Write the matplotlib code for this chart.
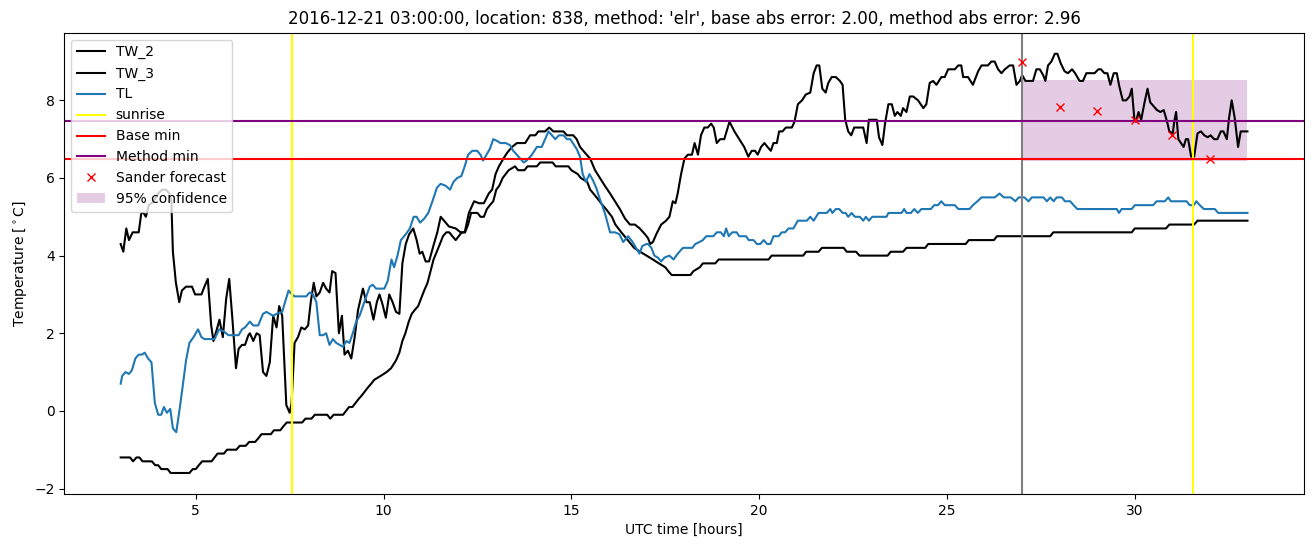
import matplotlib
matplotlib.use('Agg')
import matplotlib.pyplot as plt

# TW_2 (jagged black)
tw2_h = [3.0, 3.07, 3.15, 3.22, 3.32, 3.48, 3.55, 3.61, 3.67, 3.75, 3.88, 4.0, 4.1, 4.2, 4.3, 4.35,
         4.39, 4.47, 4.56, 4.63, 4.74, 4.9, 4.98, 5.15, 5.23, 5.32, 5.41, 5.47, 5.56, 5.63, 5.72,
         5.81, 5.89, 5.98, 6.07, 6.14, 6.23, 6.31, 6.4, 6.44, 6.53, 6.62, 6.7, 6.79, 6.88, 6.97,
         7.06, 7.15, 7.22, 7.3, 7.37, 7.41, 7.5, 7.55, 7.63, 7.72, 7.81, 7.9, 7.99, 8.06, 8.14,
         8.21, 8.3, 8.39, 8.47, 8.56, 8.63, 8.72, 8.81, 8.89, 8.96, 9.05, 9.14, 9.23, 9.32, 9.45,
         9.54, 9.63, 9.73, 9.82, 9.89, 9.97, 10.06, 10.15, 10.24, 10.33, 10.42, 10.5, 10.59, 10.68,
         10.79, 10.88, 10.96, 11.03, 11.12, 11.21, 11.34, 11.43, 11.52, 11.61, 11.74, 11.92, 12.05,
         12.16, 12.27, 12.41, 12.54, 12.67, 12.8, 12.89, 12.98, 13.07, 13.19, 13.29, 13.42, 13.55,
         13.77, 13.9, 14.04, 14.12, 14.3, 14.41, 14.52, 14.79, 14.88, 15.05, 15.14, 15.23, 15.36,
         15.5, 15.63, 15.76, 15.89, 16.03, 16.16, 16.29, 16.43, 16.56, 16.69, 16.82, 16.96, 17.04,
         17.1, 17.17, 17.26, 17.39, 17.52, 17.61, 17.7, 17.77, 17.83, 17.92, 18.01, 18.1, 18.21,
         18.28, 18.37, 18.45, 18.54, 18.63, 18.72, 18.79, 18.87, 18.96, 19.07, 19.21, 19.34, 19.47,
         19.6, 19.71, 19.8, 19.89, 19.96, 20.05, 20.14, 20.22, 20.31, 20.38, 20.47, 20.53, 20.62,
         20.71, 20.87, 20.94, 21.03, 21.14, 21.24, 21.36, 21.45, 21.53, 21.6, 21.68, 21.77, 21.84,
         21.93, 22.04, 22.15, 22.22, 22.29, 22.37, 22.45, 22.53, 22.77, 22.86, 22.92, 23.13, 23.19,
         23.28, 23.35, 23.44, 23.53, 23.61, 23.68, 23.77, 23.83, 23.92, 24.01, 24.1, 24.23, 24.37,
         24.45, 24.54, 24.63, 24.72, 24.85, 24.94, 25.03, 25.21, 25.3, 25.38, 25.43, 25.56, 25.69,
         25.83, 25.92, 26.09, 26.18, 26.27, 26.36, 26.45, 26.54, 26.67, 26.76, 26.85, 26.94, 27.0,
         27.09, 27.29, 27.38, 27.47, 27.56, 27.62, 27.69, 27.78, 27.87, 27.94, 28.03, 28.13, 28.22,
         28.33, 28.41, 28.53, 28.62, 28.71, 28.93, 29.03, 29.1, 29.19, 29.27, 29.35, 29.44, 29.52,
         29.59, 29.68, 29.77, 29.86, 29.92, 29.99, 30.03, 30.1, 30.17, 30.26, 30.34, 30.41, 30.5,
         30.59, 30.68, 30.77, 30.86, 30.92, 31.01, 31.05, 31.1, 31.16, 31.23, 31.3, 31.36, 31.42,
         31.5, 31.58, 31.67, 31.76, 31.85, 31.94, 32.02, 32.11, 32.2, 32.29, 32.36, 32.45, 32.51,
         32.58, 32.66, 32.75, 32.82, 33.0]
tw2_t = [4.3, 4.1, 4.7, 4.4, 4.6, 4.6, 5.1, 5.1, 5.0, 5.3, 5.4, 5.6, 5.7, 5.7, 5.6, 5.4,
         4.1, 3.3, 2.8, 3.1, 3.2, 3.2, 3.0, 3.0, 3.2, 3.4, 2.2, 1.8, 2.1, 2.35, 1.9,
         2.9, 3.4, 2.3, 1.1, 1.6, 1.7, 1.7, 1.95, 2.0, 1.8, 2.0, 1.95, 1.0, 0.9, 1.25,
         2.45, 2.15, 2.7, 2.45, 1.0, 0.15, -0.05, 0.2, 1.75, 1.9, 2.15, 2.1, 2.2, 2.8, 3.3,
         2.95, 3.05, 3.3, 3.15, 3.05, 3.6, 3.55, 2.0, 2.45, 1.45, 1.55, 1.35, 1.9, 2.6, 3.15,
         2.8, 2.8, 2.35, 2.8, 3.0, 2.75, 2.4, 3.0, 2.8, 2.55, 2.5, 3.8, 4.3, 4.55,
         4.7, 4.4, 4.05, 4.1, 3.85, 3.85, 4.3, 4.6, 5.0, 4.9, 4.75, 4.7, 4.6,
         4.6, 5.1, 5.4, 5.35, 5.35, 5.6, 5.7, 6.1, 6.3, 6.5, 6.65, 6.8, 6.9,
         6.9, 7.1, 7.1, 7.2, 7.2, 7.3, 7.2, 7.2, 7.1, 7.1, 7.0, 6.8, 6.65,
         6.5, 6.2, 6.0, 5.8, 5.6, 5.4, 5.2, 4.95, 4.8, 4.8, 4.7, 4.55, 4.45,
         4.3, 4.35, 4.55, 4.8, 4.9, 5.0, 5.4, 5.35, 5.6, 6.1, 6.5, 6.6, 6.6,
         6.9, 6.6, 7.1, 7.3, 7.3, 7.4, 7.3, 6.9, 7.0, 7.0, 7.45, 7.2, 7.0,
         6.8, 6.55, 6.7, 6.7, 6.6, 6.8, 6.9, 6.8, 6.7, 6.9, 6.9, 7.2, 7.2,
         7.3, 7.3, 7.45, 7.9, 8.0, 8.15, 8.2, 8.7, 8.9, 8.9, 8.3, 8.2, 8.45,
         8.6, 8.6, 8.5, 8.4, 7.5, 7.2, 7.1, 7.3, 7.3, 6.9, 7.5, 7.5, 7.05,
         6.85, 7.4, 7.9, 7.9, 7.6, 7.7, 7.6, 7.8, 7.7, 8.1, 8.1, 8.0, 7.8,
         7.9, 8.45, 8.5, 8.4, 8.6, 8.6, 8.8, 8.8, 8.9, 8.9, 8.6, 8.6, 8.4,
         8.75, 8.9, 8.9, 9.0, 9.0, 8.8, 8.7, 8.8, 8.9, 8.9, 8.4, 8.5, 8.65,
         8.5, 8.5, 8.8, 8.8, 8.65, 8.5, 8.9, 9.0, 9.2, 9.2, 8.95, 8.75, 8.7,
         8.8, 8.7, 8.5, 8.5, 8.7, 8.7, 8.8, 8.8, 8.7, 8.7, 8.4, 8.7, 8.7,
         8.35, 8.0, 8.0, 8.1, 8.3, 7.5, 7.45, 7.7, 7.5, 7.95, 8.3, 7.95, 7.85,
         7.75, 7.7, 7.75, 7.45, 7.2, 7.15, 7.45, 7.7, 7.0, 6.9, 6.8, 7.0, 7.0,
         6.55, 6.55, 7.15, 7.2, 7.1, 7.05, 7.1, 7.0, 7.0, 7.2, 7.2, 7.0, 7.55,
         8.0, 7.55, 6.8, 7.2, 7.2]

# TW_3 (smooth black)
tw3_h = [3.0, 3.25, 3.33, 3.42, 3.5, 3.58, 3.83, 3.92, 4.0, 4.08, 4.25, 4.33, 4.83, 4.92, 5.0,
         5.08, 5.17, 5.42, 5.5, 5.58, 5.75, 5.83, 6.08, 6.17, 6.33, 6.42, 6.58, 6.67, 6.75, 7.0,
         7.08, 7.25, 7.33, 7.42, 7.83, 7.92, 8.08, 8.17, 8.5, 8.58, 8.67, 8.92, 9.0, 9.08, 9.17,
         9.25, 9.33, 9.42, 9.5, 9.58, 9.67, 9.75, 9.92, 10.08, 10.2, 10.33, 10.42, 10.5, 10.58,
         10.67, 10.75, 10.83, 10.92, 11.0, 11.08, 11.17, 11.25, 11.33, 11.5, 11.58, 11.67, 11.75,
         11.83, 11.92, 12.0, 12.08, 12.17, 12.25, 12.33, 12.5, 12.58, 12.67, 12.75, 12.83, 12.92,
         13.0, 13.08, 13.17, 13.25, 13.33, 13.5, 13.58, 13.75, 13.83, 14.08, 14.17, 14.5, 14.58,
         14.92, 15.0, 15.17, 15.25, 15.42, 15.5, 15.67, 15.83, 15.92, 16.08, 16.17, 16.33, 16.5,
         16.67, 16.83, 17.0, 17.17, 17.33, 17.5, 17.58, 17.67, 18.17, 18.25, 18.42, 18.5, 18.83,
         18.92, 20.25, 20.33, 21.17, 21.25, 21.58, 21.67, 22.25, 22.33, 22.58, 22.67, 23.42, 23.5,
         23.83, 23.92, 24.42, 24.5, 25.5, 25.58, 26.25, 26.33, 27.75, 27.83, 29.92, 30.0, 30.83,
         30.92, 31.58, 31.67, 33.0]
tw3_t = [-1.2, -1.2, -1.3, -1.2, -1.2, -1.3, -1.3, -1.4, -1.4, -1.5, -1.5, -1.6, -1.6, -1.5, -1.5,
         -1.4, -1.3, -1.3, -1.2, -1.1, -1.1, -1.0, -1.0, -0.9, -0.9, -0.8, -0.8, -0.7, -0.6, -0.6,
         -0.5, -0.5, -0.4, -0.3, -0.3, -0.2, -0.2, -0.1, -0.1, -0.2, -0.1, -0.1, 0.0, 0.1, 0.1,
         0.2, 0.3, 0.4, 0.5, 0.6, 0.7, 0.8, 0.9, 1.0, 1.1, 1.3, 1.5, 1.8, 2.0,
         2.3, 2.5, 2.6, 2.7, 2.9, 3.1, 3.3, 3.6, 3.9, 4.3, 4.5, 4.6, 4.6,
         4.5, 4.4, 4.5, 4.6, 4.6, 4.8, 5.1, 5.1, 5.0, 5.0, 5.2, 5.3, 5.4,
         5.7, 5.8, 6.0, 6.1, 6.2, 6.3, 6.2, 6.2, 6.3, 6.3, 6.4, 6.4, 6.3,
         6.3, 6.2, 6.1, 6.0, 5.9, 5.7, 5.5, 5.3, 5.2, 5.0, 4.8, 4.6, 4.4,
         4.2, 4.1, 4.0, 3.9, 3.8, 3.7, 3.6, 3.5, 3.5, 3.6, 3.7, 3.8, 3.8,
         3.9, 3.9, 4.0, 4.0, 4.1, 4.1, 4.2, 4.2, 4.1, 4.1, 4.0, 4.0, 4.1,
         4.1, 4.2, 4.2, 4.3, 4.3, 4.4, 4.4, 4.5, 4.5, 4.6, 4.6, 4.7, 4.7,
         4.8, 4.8, 4.9, 4.9]

# TL (blue)
tl_h = [3.0, 3.04, 3.13, 3.22, 3.3, 3.39, 3.48, 3.57, 3.64, 3.73, 3.82, 3.91, 4.0, 4.08, 4.15,
        4.23, 4.32, 4.39, 4.48, 4.57, 4.66, 4.74, 4.83, 4.94, 5.06, 5.15, 5.23, 5.5, 5.62, 5.74,
        5.87, 6.14, 6.23, 6.31, 6.44, 6.53, 6.66, 6.79, 6.88, 6.97, 7.06, 7.15, 7.3, 7.39, 7.47,
        7.56, 7.63, 7.94, 8.03, 8.12, 8.21, 8.3, 8.39, 8.47, 8.56, 8.65, 8.74, 8.83, 8.92, 9.01,
        9.09, 9.18, 9.27, 9.36, 9.45, 9.54, 9.63, 9.71, 9.8, 9.93, 10.02, 10.11, 10.21, 10.28,
        10.37, 10.46, 10.59, 10.7, 10.8, 10.88, 10.97, 11.08, 11.19, 11.3, 11.42, 11.52, 11.65,
        11.77, 11.86, 11.96, 12.07, 12.16, 12.25, 12.36, 12.49, 12.58, 12.65, 12.74, 12.83, 12.92,
        13.03, 13.11, 13.25, 13.36, 13.45, 13.5, 13.64, 13.73, 13.81, 13.95, 14.08, 14.21, 14.3,
        14.39, 14.48, 14.57, 14.67, 14.79, 14.88, 14.97, 15.07, 15.14, 15.23, 15.3, 15.39, 15.48,
        15.57, 15.66, 15.76, 15.89, 16.03, 16.16, 16.28, 16.38, 16.51, 16.63, 16.72, 16.81, 16.89,
        17.0, 17.04, 17.13, 17.21, 17.3, 17.39, 17.48, 17.61, 17.72, 17.83, 17.97, 18.22, 18.3,
        18.41, 18.5, 18.59, 18.66, 18.78, 18.87, 18.98, 19.06, 19.12, 19.19, 19.28, 19.4, 19.47,
        19.65, 19.72, 19.85, 19.94, 20.03, 20.12, 20.21, 20.3, 20.38, 20.52, 20.6, 20.69, 20.78,
        20.91, 21.03, 21.27, 21.36, 21.45, 21.58, 21.8, 21.89, 21.95, 22.04, 22.13, 22.22, 22.3,
        22.37, 22.46, 22.55, 22.68, 22.77, 22.84, 22.92, 23.01, 23.39, 23.44, 23.79, 23.86, 23.92,
        24.04, 24.13, 24.22, 24.32, 24.57, 24.66, 24.76, 24.85, 24.94, 25.21, 25.3, 25.6, 25.69,
        25.81, 25.92, 26.27, 26.4, 26.51, 26.7, 26.82, 26.91, 27.06, 27.17, 27.26, 27.57, 27.66,
        27.75, 27.84, 27.92, 28.06, 28.14, 28.28, 28.37, 28.47, 29.52, 29.58, 29.65, 29.92, 30.0,
        30.49, 30.58, 30.8, 30.89, 30.96, 31.38, 31.46, 31.57, 31.64, 31.73, 31.84, 32.13, 32.22,
        33.0]
tl_t = [0.7, 0.9, 1.0, 0.95, 1.05, 1.35, 1.45, 1.45, 1.5, 1.35, 1.25, 0.2, -0.1, -0.1, 0.1,
        -0.05, 0.05, -0.45, -0.55, 0.05, 0.7, 1.3, 1.75, 1.9, 2.1, 1.9, 1.85, 1.85, 2.1, 2.05,
        1.95, 1.95, 2.1, 2.15, 2.3, 2.2, 2.2, 2.5, 2.55, 2.5, 2.45, 2.5, 2.55, 2.85, 3.1,
        3.0, 2.95, 2.95, 3.05, 3.0, 2.8, 1.95, 1.95, 2.0, 1.7, 1.85, 1.75, 1.7, 1.65, 1.8,
        1.75, 2.0, 2.3, 2.45, 2.7, 2.95, 3.2, 3.25, 3.15, 3.15, 3.15, 3.35, 3.9, 3.7,
        4.0, 4.4, 4.55, 4.7, 5.0, 5.0, 4.85, 4.95, 5.1, 5.4, 5.75, 5.85, 5.8,
        5.7, 5.9, 6.0, 6.05, 6.3, 6.6, 6.7, 6.7, 6.6, 6.45, 6.6, 6.75, 7.0,
        6.95, 6.9, 6.9, 6.85, 6.7, 6.65, 6.5, 6.4, 6.45, 6.6, 6.8, 6.8, 7.0,
        7.2, 7.1, 7.0, 7.1, 7.1, 7.0, 7.0, 6.85, 6.75, 6.55, 6.1, 5.9, 6.1,
        5.95, 5.75, 5.45, 5.1, 4.6, 4.6, 4.55, 4.35, 4.5, 4.35, 4.2, 4.05, 4.25,
        4.3, 4.3, 4.2, 4.0, 3.95, 3.85, 3.95, 4.0, 3.9, 4.05, 4.2, 4.2, 4.3,
        4.35, 4.4, 4.5, 4.5, 4.5, 4.6, 4.6, 4.5, 4.7, 4.5, 4.6, 4.6, 4.5,
        4.5, 4.4, 4.4, 4.3, 4.3, 4.4, 4.3, 4.3, 4.5, 4.5, 4.6, 4.6, 4.7,
        4.7, 4.9, 4.9, 5.0, 4.9, 5.1, 5.1, 5.2, 5.1, 5.2, 5.2, 5.1, 5.1,
        5.0, 5.1, 5.0, 5.0, 4.9, 5.0, 4.9, 5.0, 5.0, 5.1, 5.1, 5.2, 5.1,
        5.1, 5.2, 5.1, 5.2, 5.2, 5.3, 5.3, 5.4, 5.3, 5.3, 5.2, 5.2, 5.3,
        5.4, 5.5, 5.5, 5.6, 5.5, 5.5, 5.4, 5.5, 5.5, 5.4, 5.5, 5.5, 5.4,
        5.5, 5.4, 5.5, 5.5, 5.4, 5.4, 5.3, 5.2, 5.2, 5.1, 5.2, 5.2, 5.3,
        5.3, 5.4, 5.4, 5.5, 5.4, 5.4, 5.3, 5.3, 5.4, 5.3, 5.2, 5.2, 5.1,
        5.1]

# Forecast and reference levels
sander_h = [27, 28, 29, 30, 31, 32]
sander_t = [9.0, 7.83, 7.73, 7.50, 7.11, 6.50]
sunrise_h = [7.56, 31.56]
forecast_start = 27
base_min = 6.5
method_min = 7.46
conf_h = [27, 33]
conf_low = 6.43
conf_high = 8.53

fig, ax = plt.subplots(figsize=(13.13, 5.47), dpi=100)
fig.subplots_adjust(left=0.049, right=0.993, top=0.94, bottom=0.097)

ax.plot(tw2_h, tw2_t, color='black', label='TW_2')
ax.plot(tw3_h, tw3_t, color='black', label='TW_3')
ax.plot(tl_h, tl_t, color='C0', label='TL')

ax.axvline(sunrise_h[0], color='yellow', label='sunrise')
ax.axvline(sunrise_h[1], color='yellow')
ax.axvline(forecast_start, color='gray')
ax.axhline(base_min, color='red', label='Base min')
ax.axhline(method_min, color='purple', label='Method min')

ax.plot(sander_h, sander_t, 'rx', linestyle='none', label='Sander forecast')
ax.fill_between(conf_h, conf_low, conf_high, color='purple', alpha=0.2,
                linewidth=0, label='95% confidence')

ax.set_xlim(1.5, 34.5)
ax.set_ylim(-2.14, 9.74)
ax.set_xlabel('UTC time [hours]')
ax.set_ylabel(r'Temperature [$^\circ$C]')
ax.set_title("2016-12-21 03:00:00, location: 838, method: 'elr', "
             "base abs error: 2.00, method abs error: 2.96")
ax.legend(loc='upper left')

fig.savefig('out.png', dpi=100)
